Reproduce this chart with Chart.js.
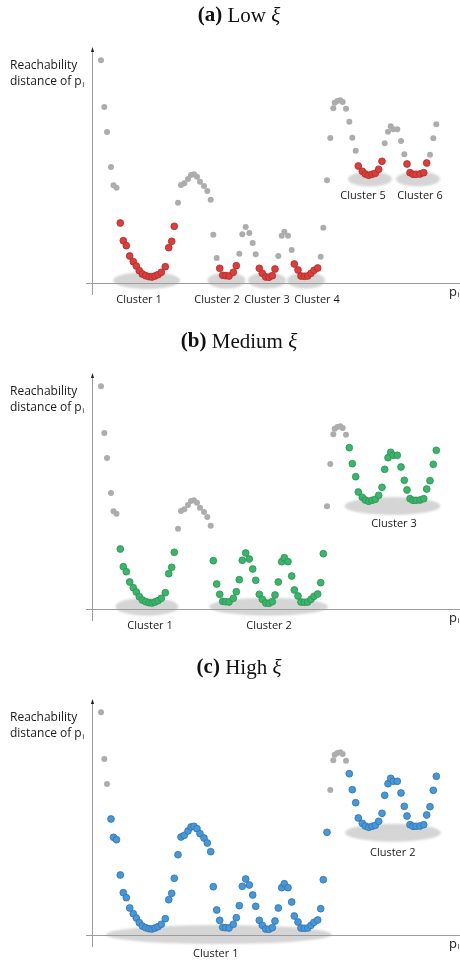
<!DOCTYPE html>
<html><head><meta charset="utf-8">
<script src="https://cdn.jsdelivr.net/npm/chart.js@4/dist/chart.umd.min.js"></script>
<style>
html,body{margin:0;padding:0;background:#fff;overflow:hidden;}
canvas{display:block;}
</style></head><body>
<canvas id="pa" width="460" height="326"></canvas>
<canvas id="pb" width="460" height="326"></canvas>
<canvas id="pc" width="460" height="309"></canvas>
<script>
// ---- data: point order (position p_i) and reachability distance ----
const positions = [9,12.3,15,19,21.5,24.5,
  28.3,31.3,34.3,37.7,41.3,44.3,47.3,50.3,53.7,57,60,63,66,69.3,73.3,76.7,79.7,82.3,
  86,89,92.3,96,99,102,105,108,112,115.3,118.7,121.3,124.7,
  127.7,130.7,133.7,137,141.3,144.3,
  147.3,150.3,153.7,157.3,160.7,163.7,
  167.3,170.3,173.7,177,180.3,183,
  186.3,189.7,192.3,196,199.7,
  202.3,206,209,212.3,215.7,219,222,225.7,
  228.7,231.3,235,238.3,241.3,242.7,245.3,248.3,250.7,254,257.3,260.3,263.7,
  266.3,270.3,273.3,276.7,280,283.3,286.7,290,
  292.7,296,298.7,301.3,305.3,309,312.3,
  315,318,321,324,328,331.7,334.7,
  338,341.3,344.3];
const reach = [222.7,176,151,116,97.7,95.3,
  60,42.3,37.3,27,21.3,17,12.3,9,7.3,6.3,6,7,8.3,10.7,16.3,35.3,41.7,56.7,
  80.3,98,99.7,104,108,108.7,106.3,101.3,97,92,83.3,48.3,25,
  14.7,7.7,7.3,7,10.7,17.3,
  29.3,48.7,56,50,40,28.7,
  14.7,9.7,6,5.7,7.3,14,
  27,47.3,51.3,47.3,33,
  19,13,7,6.7,7,9.7,12.7,15,
  26.3,55.3,102.7,145,174.7,180.3,182,182.7,181,174.3,161.3,145.3,132.3,
  117,111.7,109,107.7,108.7,109.7,113.7,121.7,
  139.7,151.3,156.7,153.7,153.7,142,128.7,
  119,110.3,108.7,108.7,109,110.3,120,
  128.3,144.7,158.7];

// ---- cluster extents (in p_i) per xi setting ----
const lowClusterRanges    = [[28,83],[127,145],[167,184],[202,226],[266,291],[315,335]];
const mediumClusterRanges = [[28,83],[121,232],[257,345]];
const highClusterRanges   = [[19,236],[257,345]];
const lowClusterNames    = ['Cluster 1','Cluster 2','Cluster 3','Cluster 4','Cluster 5','Cluster 6'];
const mediumClusterNames = ['Cluster 1','Cluster 2','Cluster 3'];
const highClusterNames   = ['Cluster 1','Cluster 2'];

// ---- annotation geometry (ellipse: center x, width, center y, height; label: x, y) ----
const panels = [
  { id:'pa', h:326, tag:'(a)', word:'Low', ranges:lowClusterRanges, names:lowClusterNames,
    fill:'#d8403e', stroke:'#b42a29',
    ellipses:[[54.7,67,2.5,17],[134.5,38,2.5,16],[175,38,2.5,16],[214,38,2.5,16],[278,44,104,15],[326,44,104,15]],
    labels:[[47,-17],[125,-17],[175,-17],[225,-17],[271,87],[328,87]] },
  { id:'pb', h:326, tag:'(b)', word:'Medium', ranges:mediumClusterRanges, names:mediumClusterNames,
    fill:'#3db36c', stroke:'#279652',
    ellipses:[[55,63,2.3,18],[176.5,119,2.3,18],[300.5,96,103,18]],
    labels:[[58,-16.7],[177,-16.7],[302,85]] },
  { id:'pc', h:309, tag:'(c)', word:'High', ranges:highClusterRanges, names:highClusterNames,
    fill:'#4a97d5', stroke:'#2d74b5',
    ellipses:[[126.8,226,0.5,19],[301,96,102.3,18]],
    labels:[[123.7,-19],[300.7,82.3]] }
];

const SANS = '"Open Sans", "Noto Sans", sans-serif';
const SERIF = '"Liberation Serif", "DejaVu Serif", serif';

const decor = {
  id:'decor',
  beforeDatasetsDraw(chart, args, o){
    const ctx = chart.ctx, xs = chart.scales.x, ys = chart.scales.y;
    ctx.save();
    ctx.filter = 'blur(1.2px)';
    ctx.fillStyle = '#d5d5d5';
    o.ellipses.forEach(e=>{
      const cx = xs.getPixelForValue(e[0]);
      const rx = (xs.getPixelForValue(e[0]+e[1]/2) - xs.getPixelForValue(e[0]-e[1]/2))/2;
      const cy = ys.getPixelForValue(e[2]);
      const ry = Math.abs(ys.getPixelForValue(e[2]+e[3]/2) - ys.getPixelForValue(e[2]-e[3]/2))/2;
      ctx.beginPath(); ctx.ellipse(cx, cy, rx, ry, 0, 0, Math.PI*2); ctx.fill();
    });
    ctx.restore();
    ctx.save();
    ctx.strokeStyle = '#9c9c9c'; ctx.lineWidth = 1;
    const x0 = Math.round(xs.getPixelForValue(0)) + 0.5;
    const y0 = Math.round(ys.getPixelForValue(0)) + 0.5;
    const yTop = ys.getPixelForValue(235);
    ctx.beginPath();
    ctx.moveTo(x0, ys.getPixelForValue(-12)); ctx.lineTo(x0, yTop + 3);
    ctx.moveTo(xs.getPixelForValue(-6), y0); ctx.lineTo(xs.getPixelForValue(368), y0);
    ctx.stroke();
    ctx.fillStyle = '#222';
    ctx.beginPath(); ctx.moveTo(x0, yTop - 1); ctx.lineTo(x0 - 1.6, yTop + 4); ctx.lineTo(x0 + 1.6, yTop + 4); ctx.closePath(); ctx.fill();
    ctx.restore();
  },
  afterDatasetsDraw(chart, args, o){
    const ctx = chart.ctx, xs = chart.scales.x, ys = chart.scales.y;
    ctx.save();
    ctx.fillStyle = '#111'; ctx.textBaseline = 'middle'; ctx.textAlign = 'left';
    const bold = 'bold 21px ' + SERIF, reg = '21px ' + SERIF, ital = 'italic 21px ' + SERIF;
    ctx.font = bold; const w1 = ctx.measureText(o.tag + ' ').width;
    ctx.font = reg;  const w2 = ctx.measureText(o.word + ' ').width;
    ctx.font = ital; const w3 = ctx.measureText('\u03BE').width;
    const tx = 239 - (w1 + w2 + w3)/2;
    ctx.font = bold; ctx.fillText(o.tag + ' ', tx, 16);
    ctx.font = reg;  ctx.fillText(o.word + ' ', tx + w1, 16);
    ctx.font = ital; ctx.fillText('\u03BE', tx + w1 + w2, 16);
    // y-axis title
    ctx.fillStyle = '#1a1a1a';
    ctx.font = '12px ' + SANS;
    ctx.fillText('Reachability', 10, 66);
    ctx.fillText('distance of p', 10, 82);
    const wd = ctx.measureText('distance of p').width;
    ctx.font = '8px ' + SANS;
    ctx.fillText('i', 10 + wd + 0.5, 85);
    // x-axis label
    ctx.font = '13px ' + SANS;
    const px = xs.getPixelForValue(357), py = ys.getPixelForValue(-9);
    ctx.fillText('p', px, py);
    const wp = ctx.measureText('p').width;
    ctx.font = '8px ' + SANS;
    ctx.fillText('i', px + wp + 0.5, py + 3);
    // cluster labels
    ctx.font = '11px ' + SANS; ctx.textAlign = 'center';
    o.labels.forEach((l,i)=>{
      ctx.fillText(o.names[i], xs.getPixelForValue(l[0]), ys.getPixelForValue(l[1]));
    });
    ctx.restore();
  }
};

panels.forEach(p=>{
  const inCluster = x => p.ranges.some(r => x >= r[0] && x <= r[1]);
  const gray = [], col = [];
  positions.forEach((x,i)=>{ (inCluster(x) ? col : gray).push({x:x, y:reach[i]}); });
  new Chart(document.getElementById(p.id), {
    type:'scatter',
    data:{ datasets:[
      { data:col, pointRadius:3.4, pointBackgroundColor:p.fill, pointBorderColor:p.stroke, pointBorderWidth:0.8, clip:false, order:0 },
      { data:gray, pointRadius:3.0, pointBackgroundColor:'#adadad', pointBorderWidth:0, clip:false, order:1 }
    ]},
    options:{
      responsive:false, animation:false, events:[],
      layout:{ padding:{ left:92, right:8, top:48, bottom:p.h-283 } },
      scales:{ x:{ type:'linear', min:0, max:360, display:false }, y:{ type:'linear', min:0, max:235, display:false } },
      plugins:{ legend:{display:false}, tooltip:{enabled:false},
        decor:{ tag:p.tag, word:p.word, ellipses:p.ellipses, labels:p.labels, names:p.names } }
    },
    plugins:[decor]
  });
});
</script></body></html>
